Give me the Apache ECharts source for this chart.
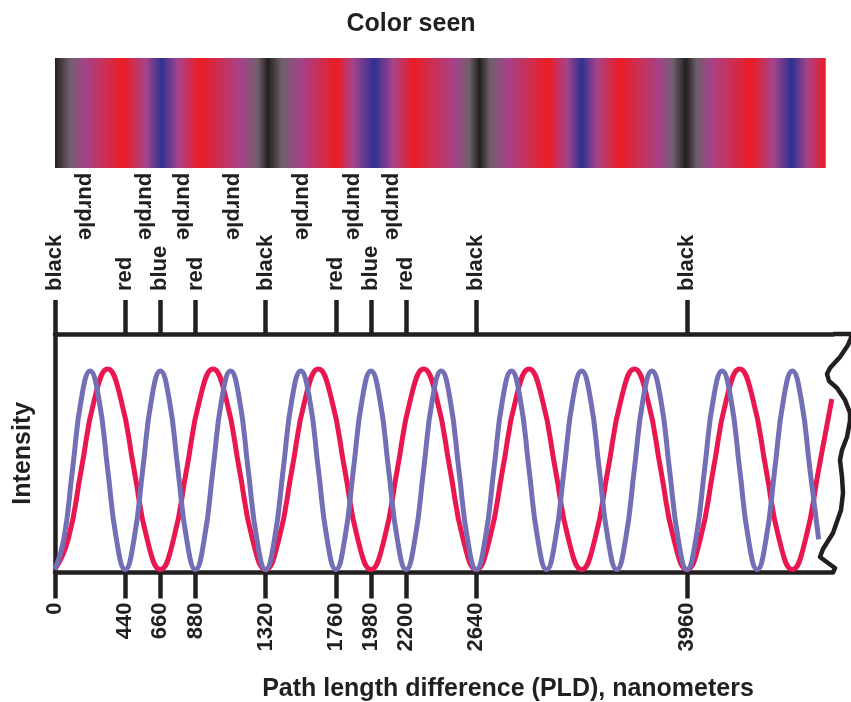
<!DOCTYPE html>
<html>
<head>
<meta charset="utf-8">
<script src="https://cdn.jsdelivr.net/npm/echarts@6/dist/echarts.min.js"></script>
<style>
html,body{margin:0;padding:0;background:#fff;}
#c{width:851px;height:702px;}
</style>
</head>
<body>
<div id="c"></div>
<script>
// ---------- data ----------
// Red light (660 nm) intensity vs path length difference
var redPLD = [0,82.5,165,247.5,330,412.5,495,577.5,660,742.5,825,907.5,990,1072.5,1155,1237.5,
  1320,1402.5,1485,1567.5,1650,1732.5,1815,1897.5,1980,2062.5,2145,2227.5,2310,2392.5,2475,2557.5,
  2640,2722.5,2805,2887.5,2970,3052.5,3135,3217.5,3300,3382.5,3465,3547.5,3630,3712.5,3795,3877.5,
  3960,4042.5,4125,4207.5,4290,4372.5,4455,4537.5,4620,4702.5,4785,4867.5];
var redIntensity = [0,0.15,0.5,0.85,1,0.85,0.5,0.15,0,0.15,0.5,0.85,1,0.85,0.5,0.15,
  0,0.15,0.5,0.85,1,0.85,0.5,0.15,0,0.15,0.5,0.85,1,0.85,0.5,0.15,
  0,0.15,0.5,0.85,1,0.85,0.5,0.15,0,0.15,0.5,0.85,1,0.85,0.5,0.15,
  0,0.15,0.5,0.85,1,0.85,0.5,0.15,0,0.15,0.5,0.85];
// Blue light (440 nm) intensity vs path length difference
var bluePLD = [0,55,110,165,220,275,330,385,440,495,550,605,660,715,770,825,880,935,990,1045,1100,1155,1210,1265,
  1320,1375,1430,1485,1540,1595,1650,1705,1760,1815,1870,1925,1980,2035,2090,2145,2200,2255,2310,2365,2420,2475,2530,2585,
  2640,2695,2750,2805,2860,2915,2970,3025,3080,3135,3190,3245,3300,3355,3410,3465,3520,3575,3630,3685,3740,3795,3850,3905,
  3960,4015,4070,4125,4180,4235,4290,4345,4400,4455,4510,4565,4620,4675,4730,4785];
var blueIntensity = [0,0.15,0.5,0.85,0.99,0.85,0.5,0.15,0,0.15,0.5,0.85,0.99,0.85,0.5,0.15,0,0.15,0.5,0.85,0.99,0.85,0.5,0.15,
  0,0.15,0.5,0.85,0.99,0.85,0.5,0.15,0,0.15,0.5,0.85,0.99,0.85,0.5,0.15,0,0.15,0.5,0.85,0.99,0.85,0.5,0.15,
  0,0.15,0.5,0.85,0.99,0.85,0.5,0.15,0,0.15,0.5,0.85,0.99,0.85,0.5,0.15,0,0.15,0.5,0.85,0.99,0.85,0.5,0.15,
  0,0.15,0.5,0.85,0.99,0.85,0.5,0.15,0,0.15,0.5,0.85,0.99,0.85,0.5,0.15];
// Bottom axis ticks (nm)
var bottomTicks = [0,440,660,880,1320,1760,1980,2200,2640,3960];
// Top "colour seen" ticks
var topTickPLD = [0,440,660,880,1320,1760,1980,2200,2640,3960];
var topTickNames = ['black','red','blue','red','black','red','blue','red','black','black'];
// "purple" label positions (nm)
var purplePLD = [190,565,800,1115,1545,1865,2115];
// Colour strip stops
var stripPLD = [0,90,190,426,570,668,770,908,1170,1270,1335,
  1420,1545,1764,1867,2000,2118,2243,2510,2595,2660,
  2726,2832,3089,3208,3300,3394,3540,3790,3872,3953,
  4022,4104,4365,4500,4616,4712,4829];
var stripColor = ['black','gray','purple','red','purple','blue','purple','red','purple','gray','black',
  'gray','purple','red','purple','blue','purple','red','purple','gray','black',
  'gray','purple','red','purple','blue','purple','red','purple','gray','black',
  'gray','purple','red','purple','blue','purple','red'];

// ---------- styling ----------
var palette = {black:'#231F20', gray:'#6F5F6B', purple:'#A5438A', red:'#ED1C24', blue:'#2E3192'};
var INK = '#231F20';
var FONT = 'Liberation Sans';
var GRID_L = 55, GRID_R = 833, GRID_T = 334, GRID_B = 572.5;
var PX_PER_NM = 0.1596;
var XMAX = (GRID_R - GRID_L) / PX_PER_NM;

function zip(xs, ys){ return xs.map(function(x,i){ return [x, ys[i]]; }); }

var labelStyle = {color: INK, fontFamily: FONT, fontWeight: 'bold', fontSize: 22};

var chart = echarts.init(document.getElementById('c'), null, {renderer:'canvas'});
chart.setOption({
  animation: false,
  backgroundColor: '#ffffff',
  title: [
    {text:'Color seen', left: 411, top: 12, textAlign:'center', padding: 0,
     textStyle:{color: INK, fontFamily: FONT, fontWeight:'bold', fontSize: 25}},
    {text:'Path length difference (PLD), nanometers', left: 508, top: 677, textAlign:'center', padding: 0,
     textStyle:{color: INK, fontFamily: FONT, fontWeight:'bold', fontSize: 25}}
  ],
  grid: [
    {left: GRID_L, top: GRID_T, width: GRID_R - GRID_L, height: GRID_B - GRID_T},
    {left: GRID_L, top: 58, width: GRID_R - GRID_L, height: 110}
  ],
  xAxis: [
    {gridIndex:0, type:'value', position:'bottom', min:0, max: XMAX,
     axisLine:{show:true, onZero:false, lineStyle:{color:INK, width:4.5}},
     axisTick:{show:true, customValues: bottomTicks, length:26, inside:false, lineStyle:{color:INK, width:4.5}},
     axisLabel:Object.assign({show:true, customValues: bottomTicks, rotate:90, margin:30,
       formatter:function(v){ return String(v); }}, labelStyle),
     splitLine:{show:false}},
    {gridIndex:0, type:'value', position:'top', min:0, max: XMAX,
     axisLine:{show:true, onZero:false, lineStyle:{color:INK, width:4.5}},
     axisTick:{show:true, customValues: topTickPLD, length:34, inside:false, lineStyle:{color:INK, width:4.5}},
     axisLabel:Object.assign({show:true, customValues: topTickPLD, rotate:-90, margin:43,
       formatter:function(v){ var i = topTickPLD.indexOf(v); return i >= 0 ? topTickNames[i] : ''; }}, labelStyle),
     splitLine:{show:false}},
    {gridIndex:0, type:'value', position:'top', min:0, max: XMAX,
     axisLine:{show:false}, axisTick:{show:false},
     axisLabel:Object.assign({show:true, customValues: purplePLD, rotate:-90, margin:94,
       formatter:function(){ return 'purple'; }}, labelStyle),
     splitLine:{show:false}},
    {gridIndex:1, type:'value', min:0, max: XMAX, show:false}
  ],
  yAxis: [
    {gridIndex:0, type:'value', min:-0.015, max:1.1745,
     name:'Intensity', nameLocation:'middle', nameGap:19, nameRotate:90,
     nameTextStyle:{color:INK, fontFamily:FONT, fontWeight:'bold', fontSize:25},
     axisLine:{show:true, onZero:false, lineStyle:{color:INK, width:4.5}},
     axisTick:{show:false}, axisLabel:{show:false}, splitLine:{show:false}},
    {gridIndex:1, type:'value', min:0, max:1, show:false}
  ],
  series: [
    {type:'custom', xAxisIndex:3, yAxisIndex:1, silent:true,
     data: stripPLD.map(function(v,i){ return [v, i]; }),
     encode:{x:0, y:1},
     renderItem:function(params, api){
       if (params.dataIndex !== 0) return null;
       var first = stripPLD[0], last = stripPLD[stripPLD.length-1];
       var p0 = api.coord([first, 1]);
       var p1 = api.coord([last, 0]);
       var span = last - first;
       var stops = stripPLD.map(function(v,i){ return {offset:(v-first)/span, color: palette[stripColor[i]]}; });
       return {type:'rect', shape:{x:p0[0], y:p0[1], width:p1[0]-p0[0], height:p1[1]-p0[1]},
               style:{fill: new echarts.graphic.LinearGradient(0,0,1,0,stops)}};
     }},
    {type:'line', name:'red', xAxisIndex:0, yAxisIndex:0, data: zip(redPLD, redIntensity),
     smooth:true, showSymbol:false, clip:false,
     lineStyle:{color:'#E9164F', width:5}, z:3},
    {type:'line', name:'blue', xAxisIndex:0, yAxisIndex:0, data: zip(bluePLD, blueIntensity),
     smooth:true, showSymbol:false, clip:false,
     lineStyle:{color:'#736FB6', width:5}, z:4}
  ],
  graphic: [
    {type:'polyline', z:100, silent:true,
     shape:{points:[[GRID_R,334],[851,334],[851,338],[848,345],[840,357],[830,368],[827,374],[829,381],[837,388],
       [845,400],[850,413],[850,421],[847,437],[842,450],[840,460],[842,477],[843,493],[841,510],[833,533],
       [823,549],[820,557],[828,563],[835,568],[833,GRID_B]]},
     style:{stroke:INK, lineWidth:4.5, fill:null, lineJoin:'round'}}
  ]
});
</script>
</body>
</html>
